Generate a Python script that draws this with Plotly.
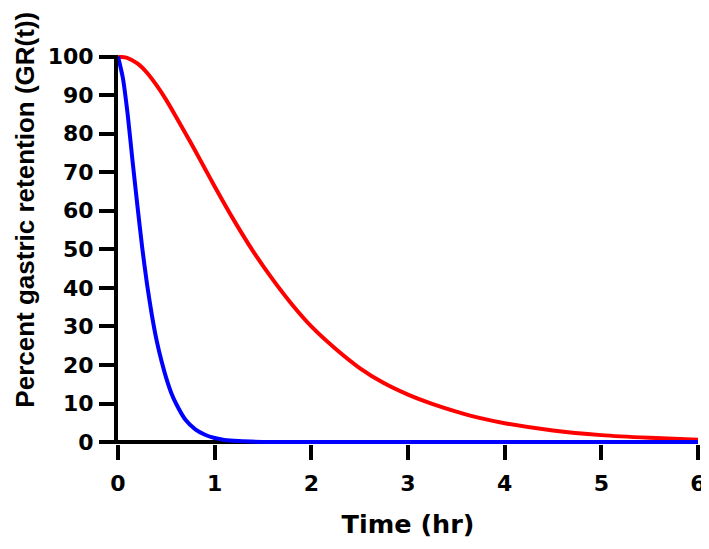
import plotly.graph_objects as go

# Red curve (slow emptying)
red_t = [0, 0.1, 0.2, 0.3, 0.4, 0.5, 0.6, 0.7, 0.8, 0.9, 1.0, 1.2, 1.4, 1.6, 1.8, 2.0,
         2.25, 2.5, 2.75, 3.0, 3.25, 3.5, 3.75, 4.0, 4.5, 5.0, 5.5, 6.0]
red_v = [100, 99.6, 98.2, 95.8, 92.5, 88.7, 84.4, 80.0, 75.5, 70.9, 66.3, 57.5, 49.4, 42.2, 35.7, 30.0,
         24.2, 19.2, 15.3, 12.3, 9.9, 7.9, 6.2, 4.9, 3.0, 1.8, 1.1, 0.6]

# Blue curve (fast emptying)
blue_t = [0, 0.05, 0.1, 0.15, 0.2, 0.25, 0.3, 0.35, 0.4, 0.45, 0.5, 0.55, 0.6,
          0.7, 0.8, 0.9, 1.0, 1.1, 1.25, 1.5, 2, 3, 4, 5, 6]
blue_v = [100, 94.5, 85, 73, 61.5, 50.5, 41, 33, 26.3, 21, 16.5, 12.8, 10.0,
          5.7, 3.3, 1.9, 1.05, 0.55, 0.25, 0.05, 0, 0, 0, 0, 0]

x_ticks = [0, 1, 2, 3, 4, 5, 6]
y_ticks = [0, 10, 20, 30, 40, 50, 60, 70, 80, 90, 100]

x_title = "Time (hr)"
y_title = "Percent gastric retention (GR(t))"

fig = go.Figure()
fig.add_trace(go.Scatter(x=red_t, y=red_v, mode="lines",
                         line=dict(color="#ff0000", width=4, shape="spline", smoothing=0.6),
                         showlegend=False))
fig.add_trace(go.Scatter(x=blue_t, y=blue_v, mode="lines",
                         line=dict(color="#0000ff", width=4, shape="spline", smoothing=0.6),
                         showlegend=False))

tick_font = dict(family="DejaVu Sans", size=22, color="black", weight="bold")

# page body has an 8px default margin, so the figure is 8px smaller
fig.update_layout(
    template="none",
    width=701, height=541,
    margin=dict(l=110, r=11, t=47, b=105, autoexpand=False),
    paper_bgcolor="white", plot_bgcolor="white",
    xaxis=dict(
        range=[0, 6], tickvals=x_ticks, ticktext=[str(v) for v in x_ticks],
        showline=False, showgrid=False, zeroline=False, automargin=False,
        ticks="outside", ticklen=15, tickwidth=4, tickcolor="black",
        tickfont=tick_font, ticklabelstandoff=5,
        title=dict(text=x_title, font=dict(family="DejaVu Sans", size=25.5, color="black", weight="bold"),
                   standoff=19),
    ),
    yaxis=dict(
        range=[-0.5, 100.4], tickvals=y_ticks, ticktext=[str(v) for v in y_ticks],
        showline=True, linewidth=4, linecolor="black", showgrid=False, automargin=False,
        zeroline=True, zerolinewidth=4, zerolinecolor="black",
        ticks="outside", ticklen=15, tickwidth=4, tickcolor="black",
        tickfont=tick_font, ticklabelstandoff=1,
    ),
    annotations=[dict(
        text=y_title, textangle=-90, showarrow=False,
        xref="paper", yref="paper", x=-0.16, y=0.603,
        xanchor="center", yanchor="middle",
        font=dict(family="Liberation Sans", size=26, color="black", weight="bold"),
    )],
)

fig.write_html("out.html")
